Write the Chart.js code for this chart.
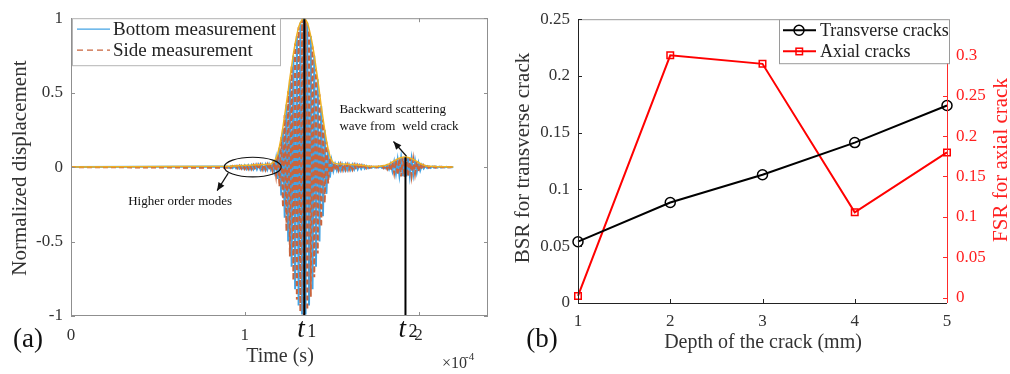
<!DOCTYPE html>
<html>
<head>
<meta charset="utf-8">
<script src="https://cdn.jsdelivr.net/npm/chart.js@4.4.0/dist/chart.umd.min.js"></script>
<style>
html, body { margin: 0; padding: 0; background: #fff; }
body { width: 1010px; height: 374px; position: relative; overflow: hidden; }
#wrapA { position: absolute; left: 0; top: 0; width: 500px; height: 374px; }
#wrapB { position: absolute; left: 500px; top: 0; width: 510px; height: 374px; }
canvas { display: block; }
</style>
</head>
<body>
<div id="wrapA"><canvas id="chartA" width="500" height="374"></canvas></div>
<div id="wrapB"><canvas id="chartB" width="510" height="374"></canvas></div>
<script>
// ---- (a) waveform: samples every 1 us, from 90 us to 220 us ----
const sampleStartUs = 90;
const sampleStepUs = 1;
const bottomMeas = [
    0.004, -0.005, 0.006, -0.006, 0.007, -0.008, 0.008, -0.009, 0.010, -0.010,
    0.011, -0.012, 0.012, -0.013, 0.013, -0.014, 0.014, -0.015, 0.015, -0.016,
    0.016, -0.016, 0.017, -0.017, 0.018, -0.018, 0.02, -0.03, 0.05, -0.08,
    0.13, -0.19, 0.26, -0.34, 0.42, -0.5, 0.59, -0.67, 0.75, -0.82,
    0.88, -0.93, 0.97, -0.99, 1.0, -0.99, 0.97, -0.93, 0.88, -0.82,
    0.75, -0.67, 0.59, -0.5, 0.41, -0.33, 0.25, -0.18, 0.12, -0.07,
    0.04, -0.025, 0.02, -0.02, 0.02, -0.02, 0.019, -0.019, 0.018, -0.018,
    0.017, -0.017, 0.016, -0.016, 0.015, -0.015, 0.013, -0.012, 0.011, -0.01,
    0.008, -0.007, 0.005, -0.004, 0.003, -0.003, 0.003, -0.003, 0.004, -0.005,
    0.006, -0.007, 0.01, -0.015, 0.021, -0.028, 0.034, -0.041, 0.047, -0.053,
    0.057, -0.06, 0.062, -0.062, 0.06, -0.057, 0.053, -0.047, 0.041, -0.034,
    0.028, -0.021, 0.015, -0.01, 0.007, -0.006, 0.005, -0.005, 0.004, -0.004,
    0.004, -0.003, 0.003, -0.003, 0.002, -0.002, 0.002, -0.001, 0.001, -0.001,
    0
];
const sideMeas = [
    -0.005, 0.006, -0.006, 0.007, -0.008, 0.008, -0.009, 0.01, -0.011, 0.011,
    -0.012, 0.012, -0.013, 0.013, -0.014, 0.014, -0.015, 0.015, -0.016, 0.016,
    -0.017, 0.017, -0.018, 0.018, -0.019, 0.02, -0.025, 0.035, -0.055, 0.085,
    -0.13, 0.2, -0.27, 0.35, -0.43, 0.51, -0.6, 0.68, -0.76, 0.83,
    -0.89, 0.94, -0.97, 0.99, -1.0, 0.99, -0.96, 0.92, -0.87, 0.81,
    -0.74, 0.66, -0.58, 0.49, -0.4, 0.32, -0.24, 0.17, -0.11, 0.065,
    -0.04, 0.025, -0.022, 0.021, -0.021, 0.02, -0.02, 0.019, -0.019, 0.018,
    -0.018, 0.017, -0.017, 0.016, -0.015, 0.014, -0.013, 0.012, -0.011, 0.009,
    -0.008, 0.006, -0.005, 0.004, -0.004, 0.003, -0.003, 0.004, -0.005, 0.006,
    -0.008, 0.01, -0.014, 0.019, -0.026, 0.033, -0.04, 0.047, -0.053, 0.058,
    -0.062, 0.065, -0.066, 0.066, -0.064, 0.061, -0.056, 0.05, -0.044, 0.037,
    -0.03, 0.023, -0.017, 0.012, -0.008, 0.006, -0.005, 0.005, -0.004, 0.004,
    -0.004, 0.003, -0.003, 0.003, -0.002, 0.002, -0.002, 0.001, -0.001, 0.001,
    0
];
const envelope = [
    0.005, 0.006, 0.006, 0.007, 0.008, 0.008, 0.009, 0.01, 0.011, 0.011,
    0.012, 0.012, 0.013, 0.013, 0.014, 0.014, 0.015, 0.015, 0.016, 0.016,
    0.017, 0.017, 0.018, 0.018, 0.019, 0.02, 0.03, 0.04, 0.06, 0.09,
    0.14, 0.2, 0.27, 0.35, 0.43, 0.51, 0.6, 0.68, 0.76, 0.83,
    0.89, 0.94, 0.97, 0.99, 1.0, 0.99, 0.97, 0.93, 0.88, 0.82,
    0.75, 0.67, 0.59, 0.5, 0.41, 0.33, 0.25, 0.18, 0.12, 0.075,
    0.045, 0.03, 0.025, 0.022, 0.021, 0.021, 0.02, 0.02, 0.019, 0.019,
    0.018, 0.018, 0.017, 0.016, 0.015, 0.014, 0.013, 0.012, 0.011, 0.01,
    0.008, 0.007, 0.005, 0.004, 0.004, 0.004, 0.004, 0.005, 0.006, 0.008,
    0.01, 0.013, 0.017, 0.022, 0.028, 0.035, 0.042, 0.049, 0.055, 0.06,
    0.064, 0.066, 0.067, 0.067, 0.065, 0.062, 0.057, 0.051, 0.045, 0.038,
    0.031, 0.024, 0.018, 0.013, 0.009, 0.007, 0.006, 0.005, 0.004, 0.004,
    0.004, 0.003, 0.003, 0.003, 0.002, 0.002, 0.002, 0.001, 0.001, 0.001,
    0
];
const arrivalTimesUs = [134.3, 192.5];   // t1, t2
const arrivalTops = [1, 0.066];
const arrivalNames = ['1', '2'];
const timeTicksUs = [0, 100, 200];
const timeTickLabels = ['0', '1', '2'];
const dispTicks = [-1, -0.5, 0, 0.5, 1];
const dispTickLabels = ['-1', '-0.5', '0', '0.5', '1'];

// ---- (b) ratios vs crack depth ----
const depthMm = [1, 2, 3, 4, 5];
const bsrTransverse = [0.054, 0.0885, 0.113, 0.1413, 0.174];
const fsrAxial = [0.002, 0.300, 0.2895, 0.1055, 0.1797];
const depthTickLabels = ['1', '2', '3', '4', '5'];
const bsrTicks = [0, 0.05, 0.1, 0.15, 0.2, 0.25];
const bsrTickLabels = ['0', '0.05', '0.1', '0.15', '0.2', '0.25'];
const fsrTicks = [0, 0.05, 0.1, 0.15, 0.2, 0.25, 0.3];
const fsrTickLabels = ['0', '0.05', '0.1', '0.15', '0.2', '0.25', '0.3'];

const serif = '"Liberation Serif", "Times New Roman", serif';
const blue = '#43a3e4';
const orange = '#c9643d';
const yellow = '#efb124';

function toPoints(values) {
    const pts = [{ x: 0, y: 0 }];
    values.forEach((v, i) => pts.push({ x: sampleStartUs + i * sampleStepUs, y: v }));
    return pts;
}

function line(ctx, x0, y0, x1, y1) {
    ctx.beginPath();
    ctx.moveTo(x0, y0);
    ctx.lineTo(x1, y1);
    ctx.stroke();
}

function arrow(ctx, x0, y0, x1, y1) {
    line(ctx, x0, y0, x1, y1);
    const ang = Math.atan2(y1 - y0, x1 - x0);
    const len = 8, wid = 3.5;
    ctx.beginPath();
    ctx.moveTo(x1, y1);
    ctx.lineTo(x1 - len * Math.cos(ang) + wid * Math.sin(ang), y1 - len * Math.sin(ang) - wid * Math.cos(ang));
    ctx.lineTo(x1 - len * Math.cos(ang) - wid * Math.sin(ang), y1 - len * Math.sin(ang) + wid * Math.cos(ang));
    ctx.closePath();
    ctx.fill();
}

function text(ctx, str, x, y, font, color, align, base) {
    ctx.font = font;
    ctx.fillStyle = color;
    ctx.textAlign = align || 'center';
    ctx.textBaseline = base || 'middle';
    ctx.fillText(str, x, y);
}

function rotatedText(ctx, str, cx, cy, font, color) {
    ctx.save();
    ctx.translate(cx, cy);
    ctx.rotate(-Math.PI / 2);
    text(ctx, str, 0, 0, font, color);
    ctx.restore();
}

function fixedTicks(list) {
    return scale => { scale.ticks = list.map(v => ({ value: v })); };
}

// ---------------- chart (a) ----------------
const decorA = {
    id: 'decorA',
    afterDraw(chart) {
        const { ctx, chartArea: a, scales: { x, y } } = chart;
        ctx.save();
        // box + inward ticks
        ctx.strokeStyle = '#8f8f8f';
        ctx.lineWidth = 1;
        ctx.strokeRect(a.left + 0.5, a.top + 0.5, a.right - a.left - 1, a.bottom - a.top - 1);
        x.ticks.forEach(t => {
            const px = Math.round(x.getPixelForValue(t.value)) + 0.5;
            line(ctx, px, a.bottom, px, a.bottom - 4);
            line(ctx, px, a.top, px, a.top + 4);
        });
        y.ticks.forEach(t => {
            const py = Math.round(y.getPixelForValue(t.value)) + 0.5;
            line(ctx, a.left, py, a.left + 4, py);
            line(ctx, a.right, py, a.right - 4, py);
        });

        // legend
        const lx = a.left + 1, ly = a.top, lw = 208, lh = 47;
        ctx.fillStyle = '#fff';
        ctx.fillRect(lx, ly, lw, lh);
        ctx.strokeStyle = '#b5b5b5';
        ctx.strokeRect(lx + 0.5, ly + 0.5, lw, lh);
        ctx.lineWidth = 1.2;
        ctx.strokeStyle = blue;
        line(ctx, lx + 5, ly + 11, lx + 38, ly + 11);
        ctx.strokeStyle = orange;
        ctx.setLineDash([6, 4]);
        line(ctx, lx + 5, ly + 32, lx + 38, ly + 32);
        ctx.setLineDash([]);
        text(ctx, 'Bottom measurement', lx + 41, ly + 12, '19px ' + serif, '#222', 'left');
        text(ctx, 'Side measurement', lx + 41, ly + 33, '19px ' + serif, '#222', 'left');

        // annotations
        ctx.strokeStyle = '#111';
        ctx.fillStyle = '#111';
        ctx.lineWidth = 1.2;
        const ex = x.getPixelForValue(104.6), ey = y.getPixelForValue(0);
        const rx = x.getPixelForValue(104.6 + 16.4) - ex, ry = ey - y.getPixelForValue(0.066);
        ctx.beginPath();
        ctx.ellipse(ex, ey, rx, ry, 0, 0, Math.PI * 2);
        ctx.stroke();
        arrow(ctx, x.getPixelForValue(90.5), y.getPixelForValue(-0.04), x.getPixelForValue(84.1), y.getPixelForValue(-0.158));
        text(ctx, 'Higher order modes', x.getPixelForValue(32.9), y.getPixelForValue(-0.231), '13px ' + serif, '#111', 'left');
        arrow(ctx, x.getPixelForValue(193.1), y.getPixelForValue(0.073), x.getPixelForValue(185.6), y.getPixelForValue(0.172));
        text(ctx, 'Backward scattering', x.getPixelForValue(154.5), y.getPixelForValue(0.383), '13px ' + serif, '#111', 'left');
        text(ctx, 'wave from  weld crack', x.getPixelForValue(154.5), y.getPixelForValue(0.27), '13px ' + serif, '#111', 'left');

        // t1, t2 labels under the arrival lines
        arrivalTimesUs.forEach((t, i) => {
            const px = x.getPixelForValue(t);
            text(ctx, 't', px - 7, a.bottom + 21, 'italic 27px ' + serif, '#111', 'left', 'alphabetic');
            text(ctx, arrivalNames[i], px + 3, a.bottom + 21, '18px ' + serif, '#111', 'left', 'alphabetic');
        });

        // titles
        rotatedText(ctx, 'Normalized displacement', 20, (a.top + a.bottom) / 2 + 1, '21px ' + serif, '#333');
        text(ctx, 'Time (s)', 280, 357, '20px ' + serif, '#333');
        text(ctx, '\u00d710', 442, 368, '16px ' + serif, '#333', 'left', 'alphabetic');
        text(ctx, '-4', 465, 360, '11px ' + serif, '#333', 'left', 'alphabetic');
        text(ctx, '(a)', 28, 340, '27px ' + serif, '#111');
        ctx.restore();
    }
};

new Chart(document.getElementById('chartA'), {
    type: 'line',
    data: {
        datasets: [
            {
                label: 't lines 1',
                data: [{ x: arrivalTimesUs[0], y: -1 }, { x: arrivalTimesUs[0], y: arrivalTops[0] }],
                borderColor: '#000', borderWidth: 2, pointRadius: 0, order: 0
            },
            {
                label: 't lines 2',
                data: [{ x: arrivalTimesUs[1], y: -1 }, { x: arrivalTimesUs[1], y: arrivalTops[1] }],
                borderColor: '#000', borderWidth: 2, pointRadius: 0, order: 0
            },
            {
                label: 'Envelope',
                data: toPoints(envelope),
                borderColor: yellow, borderWidth: 1.5, pointRadius: 0, order: 1
            },
            {
                label: 'Side measurement',
                data: toPoints(sideMeas),
                borderColor: orange, borderWidth: 2, borderDash: [5, 3], pointRadius: 0, order: 2
            },
            {
                label: 'Bottom measurement',
                data: toPoints(bottomMeas),
                borderColor: blue, borderWidth: 2, pointRadius: 0, order: 3
            }
        ]
    },
    options: {
        responsive: false,
        animation: false,
        layout: { padding: { top: 13, right: 12, left: 0, bottom: 0 } },
        plugins: { legend: { display: false }, tooltip: { enabled: false } },
        elements: { line: { tension: 0 } },
        scales: {
            x: {
                type: 'linear', min: 0, max: 240,
                afterBuildTicks: fixedTicks(timeTicksUs),
                afterFit: s => { s.height = 58; },
                grid: { display: false, drawTicks: false },
                border: { display: false },
                ticks: {
                    padding: 9, color: '#333', maxRotation: 0, autoSkip: false,
                    font: { family: serif, size: 17 },
                    callback: (v, i) => timeTickLabels[i]
                }
            },
            y: {
                type: 'linear', min: -1, max: 1,
                afterBuildTicks: fixedTicks(dispTicks),
                afterFit: s => { s.width = 71; },
                grid: { display: false, drawTicks: false },
                border: { display: false },
                ticks: {
                    padding: 8, color: '#333', autoSkip: false,
                    font: { family: serif, size: 17 },
                    callback: (v, i) => dispTickLabels[i]
                }
            }
        }
    },
    plugins: [decorA]
});

// ---------------- chart (b) ----------------
const decorB = {
    id: 'decorB',
    afterDraw(chart) {
        const { ctx, chartArea: a, scales: { x, y, y2 } } = chart;
        ctx.save();
        ctx.lineWidth = 1;
        ctx.strokeStyle = '#9a9a9a';
        line(ctx, a.left, a.top + 0.5, a.right, a.top + 0.5);
        ctx.strokeStyle = '#222';
        line(ctx, a.left + 0.5, a.top, a.left + 0.5, a.bottom);
        line(ctx, a.left, a.bottom + 0.5, a.right, a.bottom + 0.5);
        x.ticks.forEach(t => {
            const px = Math.round(x.getPixelForValue(t.value)) + 0.5;
            line(ctx, px, a.bottom, px, a.bottom - 4);
        });
        y.ticks.forEach(t => {
            const py = Math.round(y.getPixelForValue(t.value)) + 0.5;
            line(ctx, a.left, py, a.left + 4, py);
        });
        ctx.strokeStyle = '#ff2a2a';
        line(ctx, a.right + 0.5, a.top, a.right + 0.5, a.bottom);
        y2.ticks.forEach(t => {
            const py = Math.round(y2.getPixelForValue(t.value)) + 0.5;
            line(ctx, a.right, py, a.right - 4, py);
        });

        // legend
        const lw = 170, lh = 44, lx = a.right + 2 - lw, ly = a.top;
        ctx.fillStyle = '#fff';
        ctx.fillRect(lx, ly, lw, lh);
        ctx.strokeStyle = '#9a9a9a';
        ctx.strokeRect(lx + 0.5, ly + 0.5, lw, lh);
        ctx.lineWidth = 2;
        ctx.strokeStyle = '#000';
        line(ctx, lx + 4, ly + 11, lx + 37, ly + 11);
        ctx.lineWidth = 1.5;
        ctx.beginPath();
        ctx.arc(lx + 20, ly + 11, 5, 0, Math.PI * 2);
        ctx.stroke();
        ctx.lineWidth = 2;
        ctx.strokeStyle = '#ff0000';
        line(ctx, lx + 4, ly + 32, lx + 37, ly + 32);
        ctx.lineWidth = 1.5;
        ctx.strokeRect(lx + 17, ly + 29, 6.5, 6.5);
        text(ctx, 'Transverse cracks', lx + 41, ly + 12, '18px ' + serif, '#222', 'left');
        text(ctx, 'Axial cracks', lx + 41, ly + 33, '18px ' + serif, '#222', 'left');

        // titles
        rotatedText(ctx, 'BSR for transverse crack', 23, 158, '21px ' + serif, '#333');
        rotatedText(ctx, 'FSR for axial crack', 501, 160, '21px ' + serif, '#ff2020');
        text(ctx, 'Depth of the crack (mm)', 263, 343, '20px ' + serif, '#333');
        text(ctx, '(b)', 42, 340, '27px ' + serif, '#111');
        ctx.restore();
    }
};

new Chart(document.getElementById('chartB'), {
    type: 'line',
    data: {
        datasets: [
            {
                label: 'Transverse cracks',
                data: depthMm.map((d, i) => ({ x: d, y: bsrTransverse[i] })),
                yAxisID: 'y',
                borderColor: '#000', borderWidth: 2,
                pointStyle: 'circle', pointRadius: 5, pointBorderWidth: 1.5,
                pointBackgroundColor: 'rgba(0,0,0,0)', pointBorderColor: '#000',
                clip: false
            },
            {
                label: 'Axial cracks',
                data: depthMm.map((d, i) => ({ x: d, y: fsrAxial[i] })),
                yAxisID: 'y2',
                borderColor: '#ff0000', borderWidth: 2,
                pointStyle: 'rect', pointRadius: 4.6, pointBorderWidth: 1.5,
                pointBackgroundColor: 'rgba(0,0,0,0)', pointBorderColor: '#ff0000',
                clip: false
            }
        ]
    },
    options: {
        responsive: false,
        animation: false,
        layout: { padding: { top: 14, right: 0, left: 0, bottom: 0 } },
        plugins: { legend: { display: false }, tooltip: { enabled: false } },
        elements: { line: { tension: 0 } },
        scales: {
            x: {
                type: 'linear', min: 1, max: 5,
                afterBuildTicks: fixedTicks(depthMm),
                afterFit: s => { s.height = 71; },
                grid: { display: false, drawTicks: false },
                border: { display: false },
                ticks: {
                    padding: 8, color: '#333', maxRotation: 0, autoSkip: false,
                    font: { family: serif, size: 17 },
                    callback: (v, i) => depthTickLabels[i]
                }
            },
            y: {
                type: 'linear', position: 'left', min: 0, max: 0.25,
                afterBuildTicks: fixedTicks(bsrTicks),
                afterFit: s => { s.width = 78; },
                grid: { display: false, drawTicks: false },
                border: { display: false },
                ticks: {
                    padding: 8, color: '#333', autoSkip: false,
                    font: { family: serif, size: 17 },
                    callback: (v, i) => bsrTickLabels[i]
                }
            },
            y2: {
                type: 'linear', position: 'right', min: -0.0068, max: 0.3448,
                afterBuildTicks: fixedTicks(fsrTicks),
                afterFit: s => { s.width = 63; },
                grid: { display: false, drawTicks: false },
                border: { display: false },
                ticks: {
                    padding: 9, color: '#ff2020', autoSkip: false,
                    font: { family: serif, size: 17 },
                    callback: (v, i) => fsrTickLabels[i]
                }
            }
        }
    },
    plugins: [decorB]
});
</script>
</body>
</html>
